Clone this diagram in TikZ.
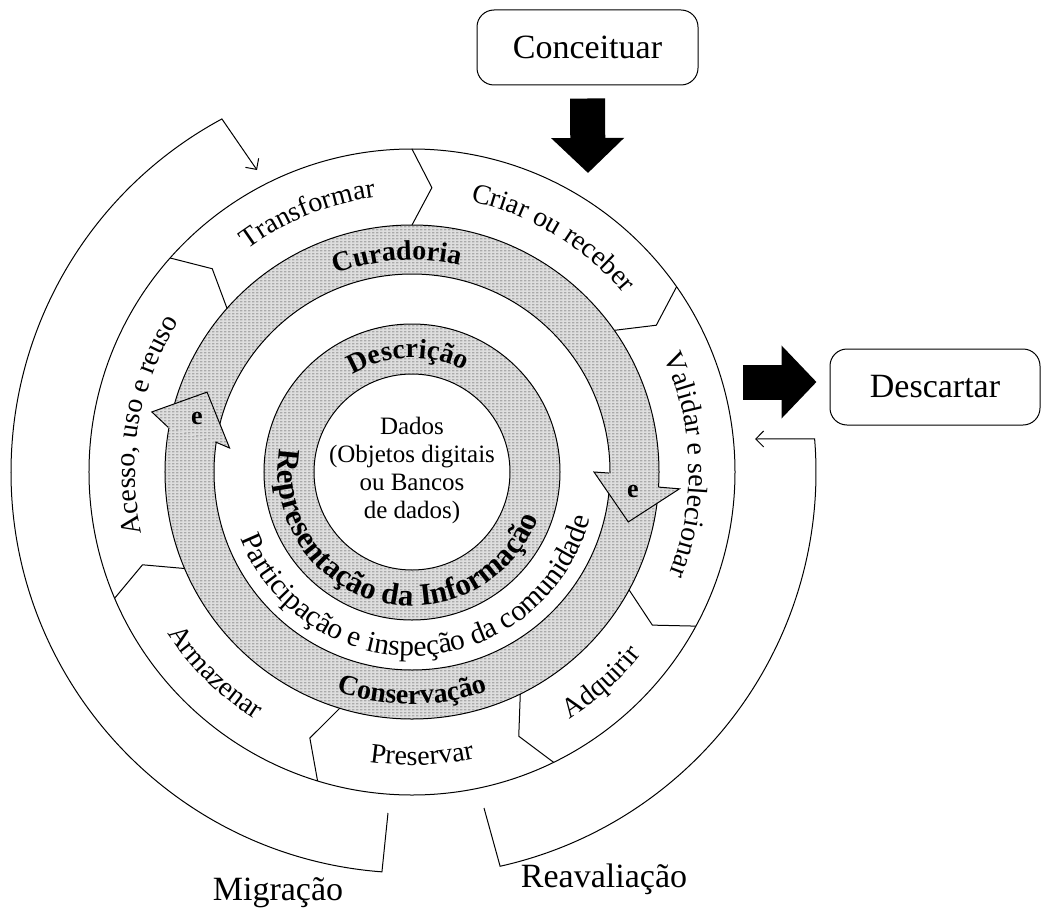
\documentclass[tikz,border=0pt]{standalone}
\usepackage{fontspec}
\setmainfont{Liberation Serif}
\usetikzlibrary{arrows.meta,decorations.text,patterns,positioning}
\colorlet{ringgray}{black!13}
\colorlet{dashgray}{black!70}
\pgfdeclarepatternformonly{ringdash}{\pgfpointorigin}{\pgfqpoint{4pt}{3pt}}{\pgfqpoint{4pt}{3pt}}{%
  \pgfpathrectangle{\pgfqpoint{0pt}{1pt}}{\pgfqpoint{3pt}{0.9pt}}\pgfusepath{fill}}
\newcommand{\ringfont}{\fontsize{28}{30}\selectfont}
\newcommand{\widefont}{\fontsize{29.5}{31}\selectfont}
\newcommand{\reprfont}{\fontsize{31}{33}\selectfont}
\newcommand{\labelfont}{\fontsize{34}{38}\selectfont}
\newcommand{\dadosfont}{\fontsize{25}{28}\selectfont}
\tikzset{
  hatched/.style={fill=ringgray, even odd rule,
    postaction={pattern=ringdash, pattern color=dashgray, even odd rule}},
  stagebox/.style={draw, rounded corners=17pt, minimum width=221pt, minimum height=75pt, font=\labelfont},
  blockarrow/.style={line width=35pt, -{Triangle[length=35pt,width=71pt]}},
  loopline/.style={-{Straight Barb[length=8pt,width=16pt]}},
  ring text/.style={decorate, decoration={text along path, text align=center, text={#1}}},
}
\begin{document}
\begin{tikzpicture}[x=1pt,y=1pt,line width=1pt]
    \useasboundingbox (-412,-439) rectangle (631,472);
    % shaded rings
    \path[hatched] (0,0) circle[radius=247] (0,0) circle[radius=198];
    \path[hatched] (0,0) circle[radius=148] (0,0) circle[radius=98];
    \foreach \r in {323,247,198,148,98}{
        \draw (0,0) circle[radius=\r];
    }
    % chevrons between the stages
    \foreach \a in {90,35,-28.5,-64,-107,-157,138.5}{
        \draw (\a:247) -- ({\a-4}:285) -- (\a:323);
    }
    % arrow heads on the curation ring
    \path[hatched] (169.6:248) -- (167:267) -- (158.7:220) -- (172.5:184) -- (171.3:199) -- cycle;
    \draw (169.6:248) -- (167:267) -- (158.7:220) -- (172.5:184) -- (171.3:199);
    \path[hatched] (-0.3:197) -- (0:182) -- (-13:222) -- (-3.6:268) -- (-3.5:247) -- cycle;
    \draw (-0.3:197) -- (0:182) -- (-13:222) -- (-3.6:268) -- (-3.5:247);
    \node[font=\fontsize{26}{28}\selectfont\bfseries] (eleft) at (-215,53) {e};
    \node[font=\fontsize{26}{28}\selectfont\bfseries] (eright) at (221,-20) {e};
    % stage texts
    \path[ring text={|\ringfont|Transformar}] (152:277) arc[start angle=152, end angle=72, radius=277];
    \path[ring text={|\ringfont|Criar ou receber}] (99:277) arc[start angle=99, end angle=19, radius=277];
    \path[ring text={|\ringfont|Validar e selecionar}] (50:277) arc[start angle=50, end angle=-47, radius=277];
    \path[ring text={|\ringfont|Acesso, uso e reuso}] (220:277) arc[start angle=220, end angle=120, radius=277];
    \path[ring text={|\ringfont|Adquirir}] (-88:293) arc[start angle=-88, end angle=-8, radius=293];
    \path[ring text={|\ringfont|Preservar}] (-128:293) arc[start angle=-128, end angle=-48, radius=293];
    \path[ring text={|\ringfont|Armazenar}] (-174.5:293) arc[start angle=-174.5, end angle=-94.5, radius=293];
    % inner ring texts
    \path[ring text={|\ringfont\bfseries|Curadoria}] (134:212) arc[start angle=134, end angle=54, radius=212];
    \path[ring text={|\ringfont\bfseries|Conservação}] (-130:232) arc[start angle=-130, end angle=-50, radius=232];
    \path[ring text={|\widefont|Participação e inspeção da comunidade}] (-186.6:184) arc[start angle=-186.6, end angle=13.4, radius=184];
    \path[ring text={|\ringfont\bfseries|Descrição}] (152:114) arc[start angle=152, end angle=32, radius=114];
    \path[ring text={|\reprfont\bfseries|Representação da Informação}] (-205:134) arc[start angle=-205, end angle=-5, radius=134];
    \node[align=center, font=\dadosfont] (dados) at (0,2) {Dados\\(Objetos digitais\\ou Bancos\\de dados)};
    % outer stages
    \node[stagebox] (conceituar) at (175.5,424.5) {Conceituar};
    \node[stagebox, minimum width=210pt, minimum height=76pt] (descartar) at (523,85) {Descartar};
    \coordinate (ringtop) at (176,299);
    \coordinate (ringright) at (331,90);
    \draw[blockarrow] ([yshift=-13pt]conceituar.south) -- (ringtop);
    \draw[blockarrow, shorten >=13pt] (ringright) -- (ringright -| descartar.west);
    % migration and reappraisal loops
    \coordinate (migtail) at (-24,-341);
    \coordinate (mighead) at (-155,302);
    \draw[loopline] (migtail) -- (265.7:401) arc[start angle=265.7, end angle=118.3, radius=401] -- (mighead);
    \coordinate (reatail) at (72,-336);
    \coordinate (reahead) at (343,33);
    \draw[loopline] (reatail) -- (-77.4:404) arc[start angle=-77.4, end angle=4.7, radius=404] -- (reahead);
    \node[font=\labelfont, anchor=base] (migracao) at (-134,-428) {Migração};
    \node[font=\labelfont, anchor=base] (reavaliacao) at (192,-415) {Reavaliação};
\end{tikzpicture}
\end{document}
